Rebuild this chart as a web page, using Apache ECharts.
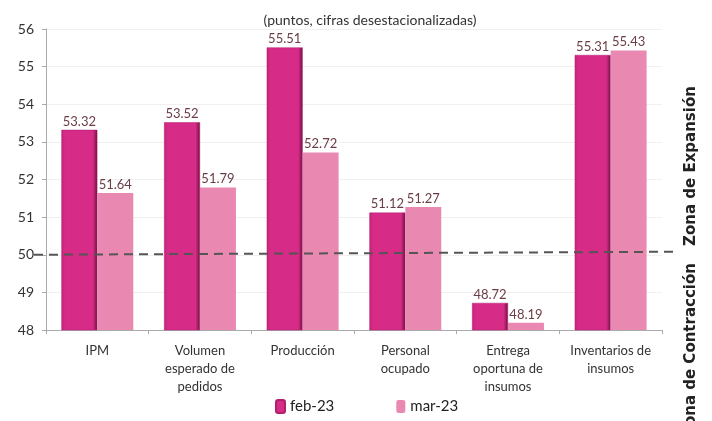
<!DOCTYPE html>
<html>
<head>
<meta charset="utf-8">
<script src="https://cdn.jsdelivr.net/npm/echarts@6/dist/echarts.min.js"></script>
<style>
  html, body { margin: 0; padding: 0; background: #fff; }
</style>
</head>
<body>
<div id="chart_con" style="width:712px;height:421px;"></div>
<script>
  var categories = ['IPM', 'Volumen\nesperado de\npedidos', 'Producción', 'Personal\nocupado', 'Entrega\noportuna de\ninsumos', 'Inventarios de\ninsumos'];
  var feb23 = [53.32, 53.52, 55.51, 51.12, 48.72, 55.31];
  var mar23 = [51.64, 51.79, 52.72, 51.27, 48.19, 55.43];
  var threshold = 50;

  var chart = echarts.init(document.getElementById('chart_con'));
  var font = 'Lato';
  var labelStyle = {
    show: true,
    position: 'top',
    distance: 2,
    color: '#6b3d46',
    fontFamily: font,
    fontSize: 13,
    formatter: function (p) { return p.value.toFixed(2); }
  };

  var option = {
    animation: false,
    textStyle: { fontFamily: font },
    title: {
      text: '(puntos, cifras desestacionalizadas)',
      left: 365,
      textAlign: 'center',
      top: 8,
      textStyle: { fontSize: 14, fontWeight: 'normal', color: '#333', fontFamily: font }
    },
    legend: {
      bottom: 2,
      left: 270,
      itemGap: 62,
      itemWidth: 9,
      itemHeight: 13,
      textStyle: { fontSize: 15, color: '#222', fontFamily: font },
      data: ['feb-23', 'mar-23']
    },
    grid: { left: 46, right: 50, top: 29, bottom: 91 },
    xAxis: {
      type: 'category',
      data: categories,
      axisLine: { lineStyle: { color: '#aaa' } },
      axisTick: { show: true, length: 4, lineStyle: { color: '#aaa' } },
      axisLabel: { color: '#333', fontSize: 13, lineHeight: 18, margin: 12, interval: 0, fontFamily: font }
    },
    yAxis: {
      type: 'value',
      min: 48,
      max: 56,
      interval: 1,
      axisLine: { show: true, lineStyle: { color: '#aaa' } },
      axisTick: { show: true, length: 4, lineStyle: { color: '#aaa' } },
      axisLabel: { color: '#333', fontSize: 14, margin: 12, fontFamily: font },
      splitLine: { lineStyle: { color: '#f0f0f0' } }
    },
    series: [
      {
        name: 'feb-23',
        type: 'bar',
        data: feb23,
        barGap: '0%',
        barCategoryGap: '30%',
        itemStyle: {
          color: new echarts.graphic.LinearGradient(0, 0, 1, 0, [
            { offset: 0, color: '#c42378' },
            { offset: 0.1, color: '#d62b86' },
            { offset: 0.88, color: '#d62b86' },
            { offset: 1, color: '#6e0f40' }
          ]),
          borderColor: '#b01e6e',
          borderWidth: 0.5
        },
        label: labelStyle,
        markLine: {
          symbol: 'none',
          silent: true,
          label: { show: false },
          lineStyle: { color: '#555', type: [9, 6], width: 2 },
          data: [[
            { coord: [-0.5, threshold], x: 34 },
            { coord: [5.5, threshold + 0.08], x: 674 }
          ]]
        }
      },
      {
        name: 'mar-23',
        type: 'bar',
        data: mar23,
        itemStyle: { color: '#e988b1' },
        label: labelStyle
      }
    ],
    graphic: [
      {
        type: 'text',
        x: 691,
        y: 166,
        rotation: Math.PI / 2,
        style: {
          text: 'Zona de Expansión',
          fontFamily: 'DejaVu Sans',
          fontWeight: 'bold',
          fontSize: 15,
          fill: '#222',
          align: 'center',
          verticalAlign: 'middle'
        }
      },
      {
        type: 'text',
        x: 691,
        y: 350,
        rotation: Math.PI / 2,
        style: {
          text: 'Zona de Contracción',
          fontFamily: 'DejaVu Sans',
          fontWeight: 'bold',
          fontSize: 15,
          fill: '#222',
          align: 'center',
          verticalAlign: 'middle'
        }
      }
    ]
  };
  chart.setOption(option);
  window.addEventListener('resize', function () {
    chart.resize();
  });
</script>
</body>
</html>
